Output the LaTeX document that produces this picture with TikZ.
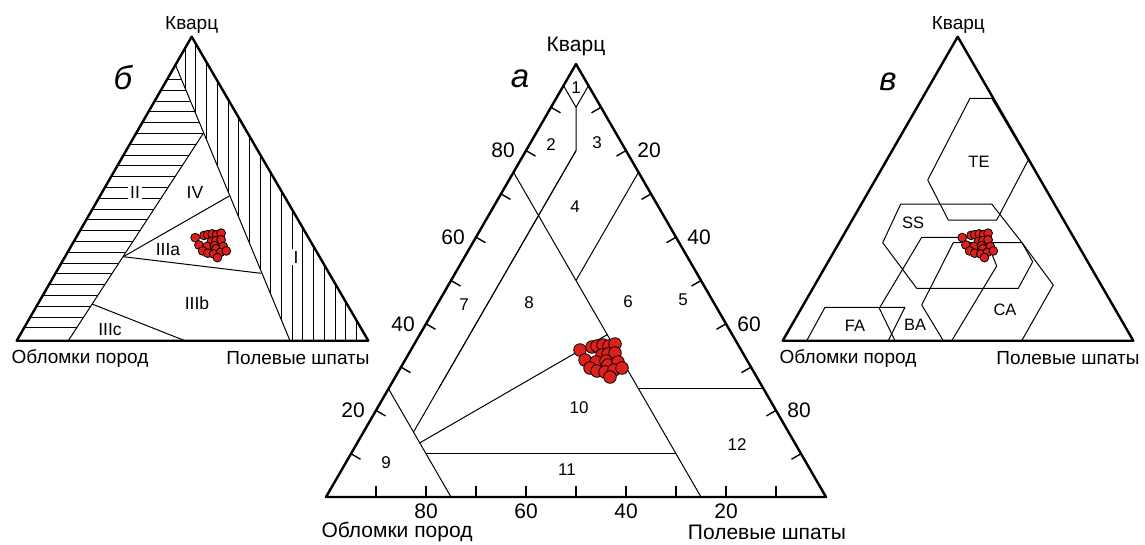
\documentclass[tikz,border=0pt]{standalone}
\usepackage{fontspec}
\setmainfont{Liberation Sans}
\usetikzlibrary{calc}
\definecolor{dotred}{RGB}{222,32,28}
\newcommand{\pointcloud}[4]{%
  \foreach \dx/\dy in {-20/-10,-8/-13,-3/-14,3/-15,9/-14,15/-16,2/-5,8/-6,15/-7,-15/0,-4/2,6/1,-10/8,8/5,18/2,-3/11,5/12,14/10,22/8,10/17}
    \filldraw[sample dot] ({#1+#3*\dx},{#2+#3*\dy}) circle (#4pt);
}
\begin{document}
\begin{tikzpicture}[x=1pt,y=-1pt,line join=round]
        % Styles
        \tikzstyle{frame line}=[line width=2.4pt]
        \tikzstyle{field line}=[line width=1pt]
        \tikzstyle{tick line}=[line width=1.4pt]
        \tikzstyle{hatch line}=[line width=0.5pt]
        \tikzstyle{sample dot}=[fill=dotred,draw=black,line width=0.8pt]
        \tikzstyle{field text}=[font=\fontsize{17}{17}\selectfont,inner sep=1pt]
        \tikzstyle{tick text}=[font=\fontsize{21}{21}\selectfont,inner sep=0pt]
        \tikzstyle{big corner}=[font=\fontsize{21}{21}\selectfont,inner sep=0pt]
        \tikzstyle{small corner}=[font=\fontsize{19}{19}\selectfont,inner sep=0pt]
        \tikzstyle{panel letter}=[font=\fontsize{33}{33}\selectfont\itshape]
        \useasboundingbox (0,0) rectangle (1145,544);
        %triangle a
        \coordinate (aQ) at (576,64);
        \coordinate (aR) at (326,497);
        \coordinate (aF) at (826,497);
        \draw[frame line] (aQ) -- (aR) -- (aF) -- cycle;
        \foreach \q [evaluate=\q as \t using \q/100] in {10,20,...,90} {
            \draw[tick line] ($(aR)!\t!(aQ)$) -- ++(9.5,5.5);
            \draw[tick line] ($(aF)!\t!(aQ)$) -- ++(-9.5,5.5);
            \draw[tick line] ($(aF)!\t!(aR)$) -- ++(0,-11);
        }
        \foreach \q [evaluate=\q as \t using \q/100] in {20,40,60,80} {
            \node[tick text] (aleft\q) at ($(aR)!\t!(aQ)+(-23,0)$) {\q};
            \node[tick text] (aright\q) at ($(aQ)!\t!(aF)+(23,0)$) {\q};
            \node[tick text] (abottom\q) at ($(aF)!\t!(aR)+(0,14)$) {\q};
        }
        %fields
        \coordinate (a1) at (barycentric cs:aQ=0.9,aR=0.05,aF=0.05);
        \coordinate (a2) at (barycentric cs:aQ=0.8,aR=0.1,aF=0.1);
        \coordinate (a3) at (barycentric cs:aQ=0.15,aR=0.75,aF=0.1);
        \coordinate (a4) at (barycentric cs:aQ=0.25,aR=0.65,aF=0.1);
        \coordinate (a5) at (barycentric cs:aQ=0.5,aR=0.25,aF=0.25);
        \coordinate (a6) at (barycentric cs:aQ=0.125,aR=0.75,aF=0.125);
        \coordinate (a7) at (barycentric cs:aQ=0.375,aR=0.25,aF=0.375);
        \coordinate (a8) at (barycentric cs:aQ=0.1,aR=0.75,aF=0.15);
        \coordinate (a9) at (barycentric cs:aQ=0.1,aR=0.25,aF=0.65);
        \coordinate (a10) at (barycentric cs:aQ=0.25,aR=0.25,aF=0.5);
        \draw[field line] (barycentric cs:aQ=0.95,aR=0.05,aF=0) -- (a1) -- (barycentric cs:aQ=0.95,aR=0,aF=0.05);
        \draw[field line] (a1) -- (a2) -- (a3);
        \draw[field line] (a2) -- (a4);
        \draw[field line] (barycentric cs:aQ=0.75,aR=0.25,aF=0) -- (barycentric cs:aQ=0,aR=0.25,aF=0.75);
        \draw[field line] (barycentric cs:aQ=0.75,aR=0,aF=0.25) -- (a5);
        \draw[field line] (barycentric cs:aQ=0.25,aR=0.75,aF=0) -- (barycentric cs:aQ=0,aR=0.75,aF=0.25);
        \draw[field line] (a6) -- (a7);
        \draw[field line] (a8) -- (a9);
        \draw[field line] (a10) -- (barycentric cs:aQ=0.25,aR=0,aF=0.75);
        \foreach \n/\x/\y in {1/576/88,2/551/145,3/597/143,4/575/207,5/683/300,6/628/302,7/464/305,8/529/303,9/386/463,10/579/408,11/567/470,12/737/445}
            \node[field text] (afield\n) at (\x,\y) {\n};
        \node[big corner] (aquartz) at (576,46) {Кварц};
        \node[big corner] (arock) at (397,532) {Обломки пород};
        \node[big corner] (afeld) at (767,532) {Полевые шпаты};
        \node[panel letter] (aname) at (520,79) {а};
        %points
        \pointcloud{600}{360}{1}{6.3}
        %triangle b
        \coordinate (bQ) at (191.7,36.7);
        \coordinate (bR) at (16.7,340.7);
        \coordinate (bF) at (368.3,340.7);
        \coordinate (bT) at (175.5,65);
        \coordinate (bB) at (290,340.7);
        \coordinate (bP) at (203.3,133.3);
        \coordinate (bS) at (68.3,340.7);
        \coordinate (bM) at (123.3,256.7);
        \coordinate (bN) at (229.3,196);
        \coordinate (bK) at (261,273.3);
        \coordinate (bL) at (92,304);
        \coordinate (bE) at (185,340.7);
        \begin{scope}
            \clip (bT) -- (bQ) -- (bF) -- (bB) -- cycle;
            \foreach \x in {0,...,17}
                \draw[hatch line] ({185+10.7*\x},30) -- ++(0,320);
        \end{scope}
        \begin{scope}
            \clip (bR) -- (bT) -- (bP) -- (bS) -- cycle;
            \foreach \y in {0,...,23}
                \draw[hatch line] (10,{79.3+10.8*\y}) -- ++(200,0);
        \end{scope}
        \draw[field line] (bT) -- (bB);
        \draw[field line] (bP) -- (bS);
        \draw[field line] (bM) -- (bN);
        \draw[field line] (bM) -- (bK);
        \draw[field line] (bL) -- (bE);
        \draw[frame line] (bQ) -- (bR) -- (bF) -- cycle;
        \node[field text,font=\fontsize{17.5}{17.5}\selectfont,fill=white,inner sep=2pt] (bII) at (135,192) {II};
        \node[field text,font=\fontsize{17.5}{17.5}\selectfont,fill=white,inner sep=2pt] (bI) at (296,257) {I};
        \node[field text,font=\fontsize{17.5}{17.5}\selectfont] (bIV) at (195,192) {IV};
        \node[field text,font=\fontsize{17.5}{17.5}\selectfont] (bIIIa) at (168,250) {IIIa};
        \node[field text,font=\fontsize{17.5}{17.5}\selectfont] (bIIIb) at (197,303) {IIIb};
        \node[field text,font=\fontsize{17.5}{17.5}\selectfont] (bIIIc) at (110,330) {IIIc};
        \node[small corner] (bquartz) at (191.7,25) {Кварц};
        \node[small corner] (brock) at (80,358) {Обломки пород};
        \node[small corner] (bfeld) at (298,358) {Полевые шпаты};
        \node[panel letter] (bname) at (123,78) {б};
        \pointcloud{210}{245}{0.74}{4.4}
        %triangle v
        \coordinate (vQ) at (957.7,36.7);
        \coordinate (vR) at (782.7,340.7);
        \coordinate (vF) at (1133.3,340.7);
        % TE
        \draw[field line] (970,98.3) -- (991.7,98.3) -- (1028.3,160) -- (996.7,220) -- (948.3,220) -- (927.7,180) -- cycle;
        % SS
        \draw[field line] (900.7,204) -- (991.7,204) -- (1022,242.7) -- (1032.7,261.7) -- (1018.3,288.3) -- (916.7,288.3) -- (882.7,242.7) -- cycle;
        % CA
        \draw[field line] (953.3,242.7) -- (1022,242.7) -- (1053.3,285) -- (1021.7,340.7) -- (943.3,340.7) -- (921.7,305) -- cycle;
        % BA
        \draw[field line] (921.7,237.3) -- (985,237.3) -- (996.7,266) -- (951.7,340.7) -- (895,340.7) -- (879.3,308.3) -- cycle;
        % FA
        \draw[field line] (825,307.3) -- (905,307.3) -- (888.3,340.7) -- (806.7,340.7) -- cycle;
        \draw[frame line] (vQ) -- (vR) -- (vF) -- cycle;
        \node[field text,font=\fontsize{16.5}{16.5}\selectfont] (vTE) at (979,162) {TE};
        \node[field text,font=\fontsize{16.5}{16.5}\selectfont] (vSS) at (913,223) {SS};
        \node[field text,font=\fontsize{16.5}{16.5}\selectfont] (vCA) at (1005,310) {CA};
        \node[field text,font=\fontsize{16.5}{16.5}\selectfont] (vBA) at (915,325) {BA};
        \node[field text,font=\fontsize{16.5}{16.5}\selectfont] (vFA) at (855,326) {FA};
        \node[small corner] (vquartz) at (958.3,25) {Кварц};
        \node[small corner] (vrock) at (848,358) {Обломки пород};
        \node[small corner] (vfeld) at (1068,358) {Полевые шпаты};
        \node[panel letter] (vname) at (888,82) {в};
        \pointcloud{977}{245}{0.74}{4.4}
    \end{tikzpicture}
\end{document}
